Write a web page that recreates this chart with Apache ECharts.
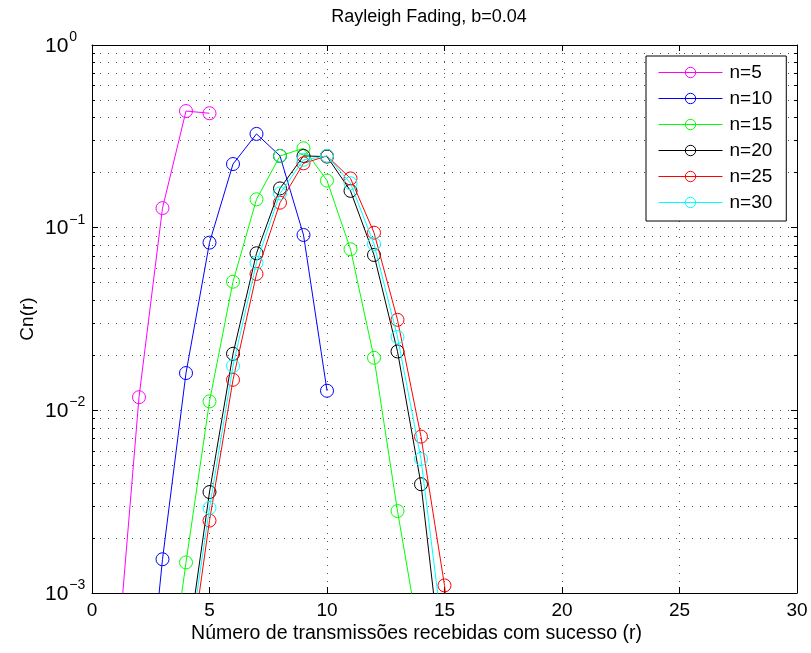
<!DOCTYPE html>
<html>
<head>
<meta charset="utf-8">
<script src="https://cdn.jsdelivr.net/npm/echarts@6/dist/echarts.min.js"></script>
<style>
html,body{margin:0;padding:0;background:#fff;}
#c{width:811px;height:653px;}
</style>
</head>
<body>
<div id="c"></div>
<script>
// r values (number of successful transmissions) per curve
var r5  = [1, 2, 3, 4, 5];
var c5  = [0.00033, 0.0118, 0.128, 0.435, 0.423];

var r10 = [2, 3, 4, 5, 6, 7, 8, 9, 10];
var c10 = [0.00008, 0.00153, 0.0160, 0.0828, 0.223, 0.326, 0.247, 0.0912, 0.0128];

var r15 = [3, 4, 5, 6, 7, 8, 9, 10, 11, 12, 13, 14];
var c15 = [0.00017, 0.00147, 0.0112, 0.0506, 0.143, 0.247, 0.272, 0.181, 0.0762, 0.0194, 0.00281, 0.0005];

var r20 = [4, 5, 6, 7, 8, 9, 10, 11, 12, 13, 14, 15];
var c20 = [0.00044, 0.00357, 0.0204, 0.0724, 0.164, 0.247, 0.245, 0.159, 0.0709, 0.0210, 0.00394, 0.0003];

var r25 = [4, 5, 6, 7, 8, 9, 10, 11, 12, 13, 14, 15, 16];
var c25 = [0.0003, 0.00249, 0.0147, 0.0558, 0.137, 0.225, 0.247, 0.186, 0.0939, 0.0313, 0.00718, 0.00110, 0.0001];

var r30 = [4, 5, 6, 7, 8, 9, 10, 11, 12, 13, 14, 15];
var c30 = [0.00039, 0.00292, 0.0175, 0.0643, 0.154, 0.235, 0.247, 0.175, 0.0814, 0.0252, 0.00542, 0.0005];

var seriesNames  = ['n=5', 'n=10', 'n=15', 'n=20', 'n=25', 'n=30'];
var seriesColors = ['#ff00ff', '#0000ff', '#00ff00', '#000000', '#ff0000', '#00ffff'];
var seriesX = [r5, r10, r15, r20, r25, r30];
var seriesY = [c5, c10, c15, c20, c25, c30];

var xTicks = [0, 5, 10, 15, 20, 25, 30];
var yMin = 0.001, yMax = 1;

var FONT = 'Liberation Sans, Arial, Helvetica, sans-serif';
var FS = 19;
var gridLine = {show: true, lineStyle: {color: '#555', width: 1, type: [1, 7]}};

function pairs(xs, ys) {
  return xs.map(function (x, i) { return [x, ys[i]]; });
}

var series = seriesNames.map(function (name, i) {
  return {
    name: name,
    type: 'line',
    data: pairs(seriesX[i], seriesY[i]),
    symbol: 'circle',
    symbolSize: 13,
    showSymbol: true,
    clip: true,
    lineStyle: {color: seriesColors[i], width: 1},
    itemStyle: {color: 'rgba(255,255,255,0)', borderColor: seriesColors[i], borderWidth: 1},
    emphasis: {disabled: true},
    z: 2 + i
  };
});

var legendData = seriesNames.map(function (name, i) {
  return {
    name: name,
    lineStyle: {color: seriesColors[i], width: 1},
    itemStyle: {color: 'rgba(255,255,255,0)', borderColor: seriesColors[i], borderWidth: 1}
  };
});

var chart = echarts.init(document.getElementById('c'), null, {renderer: 'canvas'});
chart.setOption({
  animation: false,
  backgroundColor: '#fff',
  title: {
    text: 'Rayleigh Fading, b=0.04',
    left: 424, top: 3, textAlign: 'center',
    textStyle: {fontFamily: FONT, fontSize: 18, fontWeight: 'normal', color: '#000'}
  },
  grid: {left: 92, right: 14, top: 45, bottom: 60, containLabel: false},
  legend: {
    orient: 'vertical',
    left: 646, top: 56,
    padding: [7, 14, 9, 12],
    itemWidth: 64, itemHeight: 13, itemGap: 7,
    borderColor: '#000', borderWidth: 1, backgroundColor: '#fff',
    textStyle: {fontFamily: FONT, fontSize: FS, lineHeight: 19, color: '#000', padding: [0, 0, 0, 2]},
    data: legendData,
    z: 20
  },
  xAxis: [{
    type: 'value', min: xTicks[0], max: xTicks[xTicks.length - 1], interval: 5,
    position: 'bottom',
    name: 'Número de transmissões recebidas com sucesso (r)',
    nameLocation: 'middle', nameGap: 31, nameMoveOverlap: false,
    nameTextStyle: {fontFamily: FONT, fontSize: 19.5, color: '#000', padding: [0, 56, 0, 0]},
    axisLine: {show: true, onZero: false, lineStyle: {color: '#000', width: 1}},
    axisTick: {show: true, inside: true, length: 6, lineStyle: {color: '#000'}},
    axisLabel: {show: true, margin: 8, fontFamily: FONT, fontSize: FS, color: '#000'},
    splitLine: gridLine
  }, {
    type: 'value', min: xTicks[0], max: xTicks[xTicks.length - 1], interval: 5,
    position: 'top',
    axisLine: {show: true, onZero: false, lineStyle: {color: '#000', width: 1}},
    axisTick: {show: true, inside: true, length: 6, lineStyle: {color: '#000'}},
    axisLabel: {show: false},
    splitLine: {show: false}
  }],
  yAxis: [{
    type: 'log', logBase: 10, min: yMin, max: yMax,
    position: 'left',
    name: 'Cn(r)',
    nameLocation: 'middle', nameGap: 55, nameMoveOverlap: false,
    nameTextStyle: {fontFamily: FONT, fontSize: FS, color: '#000'},
    axisLine: {show: true, onZero: false, lineStyle: {color: '#000', width: 1}},
    axisTick: {show: true, inside: true, length: 6, lineStyle: {color: '#000'}},
    minorTick: {show: true, splitNumber: 9, length: 3, lineStyle: {color: '#000'}},
    minorSplitLine: gridLine,
    splitLine: gridLine,
    axisLabel: {
      show: true, margin: 47, align: 'left',
      formatter: function (v) {
        var e = Math.round(Math.log10(v));
        return '{b|10}{s|' + (e < 0 ? '\u2212' + (-e) : e) + '}';
      },
      rich: {
        b: {fontFamily: FONT, fontSize: 21, color: '#000', padding: [2, 0, 0, 0]},
        s: {fontFamily: FONT, fontSize: 14, color: '#000', padding: [0, 0, 16, 1]}
      }
    }
  }, {
    type: 'log', logBase: 10, min: yMin, max: yMax,
    position: 'right',
    axisLine: {show: true, onZero: false, lineStyle: {color: '#000', width: 1}},
    axisTick: {show: true, inside: true, length: 6, lineStyle: {color: '#000'}},
    minorTick: {show: true, splitNumber: 9, length: 3, lineStyle: {color: '#000'}},
    axisLabel: {show: false},
    splitLine: {show: false}
  }],
  series: series
});
</script>
</body>
</html>
